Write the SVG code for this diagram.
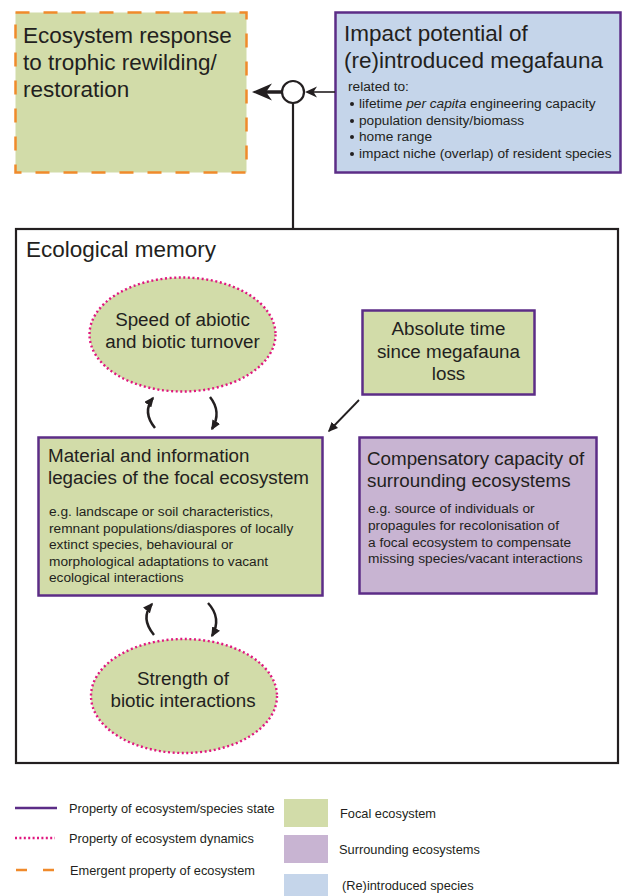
<svg xmlns="http://www.w3.org/2000/svg" width="623" height="896" viewBox="0 0 623 896">
<style>
text{font-family:"Liberation Sans",Arial,Helvetica,sans-serif;fill:#231f20}
.big{font-size:22.5px}
.mid{font-size:18.8px}
.sm{font-size:13.7px}
.lg{font-size:12.8px}
.focal{fill:#d2dca9}
.state{stroke:#5c2d87;stroke-width:2.5}
.dyn{stroke:#e0177f;stroke-width:2.4;stroke-dasharray:2 2.6;fill:#d2dca9}
.conn{stroke:#231f20;fill:none}
</style>
<defs>
<marker id="ah" markerUnits="userSpaceOnUse" viewBox="0 0 10 9" refX="8.5" refY="4.5" markerWidth="10" markerHeight="9" orient="auto">
<path d="M0,0 L10,4.5 L0,9 Z" fill="#231f20"/>
</marker>
</defs>
<rect x="0" y="0" width="623" height="896" fill="#fff"/>

<g id="response">
<rect x="15.5" y="12.5" width="231" height="160" class="focal" stroke="#f08a2b" stroke-width="2.5" stroke-dasharray="14 14"/>
<text class="big" x="23" y="43">Ecosystem response</text>
<text class="big" x="23" y="70">to trophic rewilding/</text>
<text class="big" x="23" y="97">restoration</text>
</g>

<g id="impact">
<rect x="335.5" y="12.5" width="285" height="160" fill="#c5d5ea" class="state"/>
<text class="big" x="344" y="41">Impact potential of</text>
<text class="big" x="344" y="68">(re)introduced megafauna</text>
<text class="sm" x="348" y="91">related to:</text>
<g class="sm">
<circle cx="352" cy="104" r="2" fill="#231f20"/>
<circle cx="352" cy="121" r="2" fill="#231f20"/>
<circle cx="352" cy="137" r="2" fill="#231f20"/>
<circle cx="352" cy="154" r="2" fill="#231f20"/>
<text class="sm" x="359" y="108">lifetime <tspan font-style="italic">per capita</tspan> engineering capacity</text>
<text class="sm" x="359" y="124.5">population density/biomass</text>
<text class="sm" x="359" y="141">home range</text>
<text class="sm" x="359" y="158">impact niche (overlap) of resident species</text>
</g>
</g>

<g id="memory">
<rect x="16" y="229" width="602" height="534" fill="none" stroke="#231f20" stroke-width="2.2"/>
<text class="big" x="26" y="257">Ecological memory</text>
</g>

<g id="speed">
<ellipse cx="182.5" cy="334.5" rx="93" ry="57" class="dyn"/>
<text class="mid" x="182.5" y="326" text-anchor="middle">Speed of abiotic</text>
<text class="mid" x="182.5" y="348" text-anchor="middle">and biotic turnover</text>
</g>

<g id="abstime">
<rect x="362.5" y="310.5" width="172" height="84" class="focal state"/>
<text class="mid" x="448.5" y="335" text-anchor="middle">Absolute time</text>
<text class="mid" x="448.5" y="358" text-anchor="middle">since megafauna</text>
<text class="mid" x="448.5" y="380" text-anchor="middle">loss</text>
</g>

<g id="legacies">
<rect x="38.5" y="437.5" width="284" height="158" class="focal state"/>
<text class="mid" x="48" y="462">Material and information</text>
<text class="mid" x="48" y="484">legacies of the focal ecosystem</text>
<text class="sm" x="49" y="516">e.g. landscape or soil characteristics,</text>
<text class="sm" x="49" y="532.5">remnant populations/diaspores of locally</text>
<text class="sm" x="49" y="549">extinct species, behavioural or</text>
<text class="sm" x="49" y="565.5">morphological adaptations to vacant</text>
<text class="sm" x="49" y="582">ecological interactions</text>
</g>

<g id="compensatory">
<rect x="359.5" y="437.5" width="237" height="156" fill="#c8b4d2" class="state"/>
<text class="mid" x="367" y="465">Compensatory capacity of</text>
<text class="mid" x="367" y="487">surrounding ecosystems</text>
<text class="sm" x="368" y="513">e.g. source of individuals or</text>
<text class="sm" x="368" y="529.5">propagules for recolonisation of</text>
<text class="sm" x="368" y="546.5">a focal ecosystem to compensate</text>
<text class="sm" x="368" y="563">missing species/vacant interactions</text>
</g>

<g id="strength">
<ellipse cx="184" cy="696" rx="93" ry="57" class="dyn"/>
<text class="mid" x="183" y="685" text-anchor="middle">Strength of</text>
<text class="mid" x="183" y="707" text-anchor="middle">biotic interactions</text>
</g>

<g id="connectors">
<circle cx="293" cy="92" r="11" fill="#fff" stroke="#231f20" stroke-width="2.2"/>
<line x1="293" y1="103" x2="293" y2="229" class="conn" stroke-width="2.2"/>
<line x1="335" y1="92" x2="308" y2="92" class="conn" stroke-width="1.6"/>
<path d="M305,92 L317,86.5 L313.5,92 L317,97.5 Z" fill="#231f20"/>
<line x1="282" y1="92" x2="264" y2="92" class="conn" stroke-width="3.5"/>
<path d="M252,92 L272,83.5 L266,92 L272,100.5 Z" fill="#231f20"/>
<line x1="359" y1="400" x2="329" y2="431" class="conn" stroke-width="1.8" marker-end="url(#ah)"/>
<path d="M155,428 Q142,412 153,398" class="conn" stroke-width="2.5" marker-end="url(#ah)"/>
<path d="M210,397 Q222,412 212,429" class="conn" stroke-width="2.5" marker-end="url(#ah)"/>
<path d="M154,635 Q140,618 152,604" class="conn" stroke-width="2.5" marker-end="url(#ah)"/>
<path d="M208,603 Q222,618 212,636" class="conn" stroke-width="2.5" marker-end="url(#ah)"/>
</g>

<g id="legend">
<line x1="15" y1="808" x2="57" y2="808" stroke="#5c2d87" stroke-width="2.5"/>
<text class="lg" x="69" y="813">Property of ecosystem/species state</text>
<line x1="15" y1="838" x2="55" y2="838" stroke="#e0177f" stroke-width="2.4" stroke-dasharray="2 2.4"/>
<text class="lg" x="69" y="843">Property of ecosystem dynamics</text>
<line x1="16" y1="870" x2="55" y2="870" stroke="#f08a2b" stroke-width="2.5" stroke-dasharray="11 16"/>
<text class="lg" x="70" y="875">Emergent property of ecosystem</text>
<rect x="284" y="799" width="44" height="28" fill="#d2dca9"/>
<text class="lg" x="340" y="818">Focal ecosystem</text>
<rect x="284" y="835" width="44" height="28" fill="#c8b4d2"/>
<text class="lg" x="339" y="854">Surrounding ecosystems</text>
<rect x="284" y="874" width="44" height="22" fill="#c5d5ea"/>
<text class="lg" x="342" y="890">(Re)introduced species</text>
</g>
</svg>
